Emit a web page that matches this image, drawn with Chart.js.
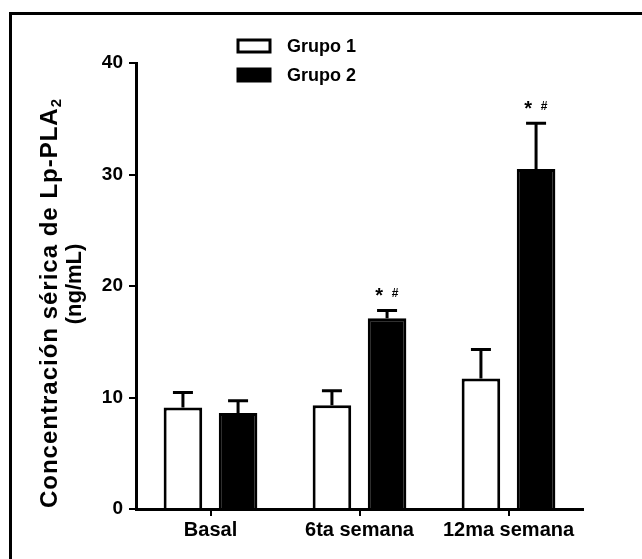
<!DOCTYPE html>
<html lang="es">
  <head>
    <meta charset="utf-8" />
    <script src="https://cdn.jsdelivr.net/npm/chart.js"></script>
    <title>Lp-PLA2</title>
    <style>
      body {
        margin: 0;
        padding: 0;
        background: #fff;
      }

      .marco {
        position: absolute;
        left: 9px;
        top: 12px;
        width: 660px;
        height: 580px;
        border-left: 3px solid #000;
        border-top: 3px solid #000;
      }

      #wrap {
        position: absolute;
        left: 0;
        top: 0;
        width: 642px;
        height: 559px;
      }
    </style>
  </head>
  <body>
    <div class="marco"></div>
    <div id="wrap">
      <canvas id="grafico" width="642" height="559"></canvas>
    </div>

    <script>
      // datos
      var categorias = ["Basal", "6ta semana", "12ma semana"];
      var grupo1 = [9.1, 9.3, 11.7];
      var grupo2 = [8.6, 17.1, 30.5];
      var error1 = [1.35, 1.3, 2.6];
      var error2 = [1.1, 0.7, 4.1];
      var marcas2 = ["", "* #", "* #"];
      var ticksY = [0, 10, 20, 30, 40];

      var fuente = "'Liberation Sans', Arial, sans-serif";

      // barras de error (solo hacia arriba) y marcas de significancia
      var pluginErrores = {
        id: 'errores',
        afterDatasetsDraw: function (chart) {
          var ctx = chart.ctx;
          var y = chart.scales.y;
          ctx.save();
          ctx.strokeStyle = '#000';
          ctx.lineWidth = 3;
          chart.data.datasets.forEach(function (ds, i) {
            var meta = chart.getDatasetMeta(i);
            meta.data.forEach(function (bar, j) {
              var top = y.getPixelForValue(ds.data[j]);
              var tope = y.getPixelForValue(ds.data[j] + ds.errores[j]);
              ctx.beginPath();
              ctx.moveTo(bar.x, top);
              ctx.lineTo(bar.x, tope);
              ctx.moveTo(bar.x - 10, tope);
              ctx.lineTo(bar.x + 10, tope);
              ctx.stroke();
              if (ds.marcas && ds.marcas[j]) {
                ctx.fillStyle = '#000';
                ctx.textAlign = 'center';
                ctx.textBaseline = 'middle';
                ctx.font = 'bold 20px ' + fuente;
                ctx.fillText('*', bar.x - 8, tope - 14);
                ctx.font = 'bold 12px ' + fuente;
                ctx.fillText('#', bar.x + 8, tope - 17);
              }
            });
          });
          ctx.restore();
        }
      };

      // título del eje y en dos líneas con subíndice, y leyenda
      var pluginTextos = {
        id: 'textos',
        afterDraw: function (chart) {
          var ctx = chart.ctx;
          ctx.save();
          ctx.fillStyle = '#000';

          // eje y
          ctx.translate(50, 303);
          ctx.rotate(-Math.PI / 2);
          ctx.textBaseline = 'middle';
          ctx.font = 'bold 24px ' + fuente;
          var t1 = 'Concentración sérica de Lp-PLA';
          ctx.letterSpacing = '1px';
          var w1 = ctx.measureText(t1).width;
          ctx.font = 'bold 15px ' + fuente;
          var w2 = ctx.measureText('2').width;
          var x0 = -(w1 + w2) / 2;
          ctx.font = 'bold 24px ' + fuente;
          ctx.textAlign = 'left';
          ctx.fillText(t1, x0, 0);
          ctx.font = 'bold 15px ' + fuente;
          ctx.fillText('2', x0 + w1, 7);
          ctx.font = 'bold 22px ' + fuente;
          ctx.textAlign = 'center';
          ctx.letterSpacing = '0px';
          ctx.fillText('(ng/mL)', 303 - 284, 25);
          ctx.restore();

          // leyenda
          ctx.save();
          ctx.font = 'bold 18px ' + fuente;
          ctx.textBaseline = 'middle';
          ctx.textAlign = 'left';
          var filas = [46, 75];
          chart.data.datasets.forEach(function (ds, i) {
            var cy = filas[i];
            ctx.fillStyle = ds.backgroundColor;
            ctx.fillRect(238, cy - 6, 32, 12);
            ctx.strokeStyle = '#000';
            ctx.lineWidth = 3;
            ctx.strokeRect(238, cy - 6, 32, 12);
            ctx.fillStyle = '#000';
            ctx.fillText(ds.label, 287, cy + 1);
          });
          ctx.restore();
        }
      };

      var ctx = document.getElementById('grafico').getContext('2d');
      var grafico = new Chart(ctx, {
        type: 'bar',
        data: {
          labels: categorias,
          datasets: [
            {
              label: 'Grupo 1',
              data: grupo1,
              errores: error1,
              backgroundColor: '#fff',
              borderColor: '#000',
              borderWidth: 3,
              categoryPercentage: 0.74,
              barPercentage: 0.7
            },
            {
              label: 'Grupo 2',
              data: grupo2,
              errores: error2,
              marcas: marcas2,
              backgroundColor: '#000',
              borderColor: '#000',
              borderWidth: 3,
              categoryPercentage: 0.74,
              barPercentage: 0.7
            }
          ]
        },
        options: {
          responsive: false,
          animation: false,
          layout: { padding: { top: 63, right: 59, left: 0, bottom: 0 } },
          plugins: {
            legend: { display: false },
            tooltip: { enabled: false }
          },
          scales: {
            x: {
              afterFit: function (s) { s.height = 50; },
              border: { color: '#000', width: 3 },
              grid: {
                offset: false,
                drawOnChartArea: false,
                color: '#000',
                lineWidth: 2,
                tickLength: 7
              },
              ticks: {
                color: '#000',
                padding: 2,
                font: { family: fuente, size: 20, weight: 'bold' }
              }
            },
            y: {
              min: 0,
              max: 40,
              afterFit: function (s) { s.width = 136; },
              afterBuildTicks: function (s) {
                s.ticks = ticksY.map(function (v) { return { value: v }; });
              },
              border: { color: '#000', width: 3 },
              grid: {
                drawOnChartArea: false,
                color: '#000',
                lineWidth: 2,
                tickLength: 7
              },
              ticks: {
                color: '#000',
                padding: 6,
                font: { family: fuente, size: 19, weight: 'bold' }
              }
            }
          }
        },
        plugins: [pluginErrores, pluginTextos]
      });
    </script>
  </body>
</html>
